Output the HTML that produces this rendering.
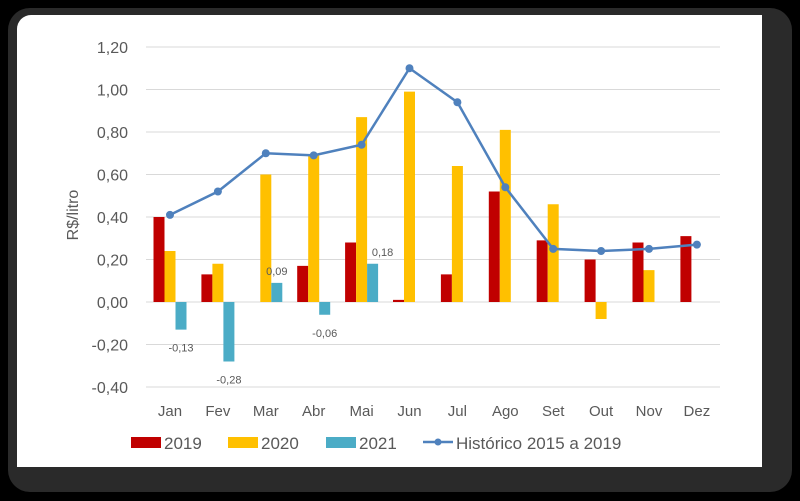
<!DOCTYPE html>
<html><head><meta charset="utf-8"><style>
html,body{margin:0;padding:0;background:#000;}
body{width:800px;height:501px;position:relative;overflow:hidden;font-family:"Liberation Sans",sans-serif;}
#frame{position:absolute;left:8px;top:8px;width:784px;height:484px;background:#2a2a2a;border-radius:22px;}
#card{position:absolute;left:17px;top:15px;width:745px;height:452px;background:#fff;border-radius:14px 0 0 0;}
svg{position:absolute;left:0;top:0;}
</style></head><body>
<div id="frame"></div>
<div id="card"></div>
<svg id="chart" width="800" height="501"></svg>
<script>
const months=["Jan","Fev","Mar","Abr","Mai","Jun","Jul","Ago","Set","Out","Nov","Dez"];
const s2019=[0.40,0.13,null,0.17,0.28,0.01,0.13,0.52,0.29,0.20,0.28,0.31];
const s2020=[0.24,0.18,0.60,0.69,0.87,0.99,0.64,0.81,0.46,-0.08,0.15,null];
const s2021=[-0.13,-0.28,0.09,-0.06,0.18,null,null,null,null,null,null,null];
const hist=[0.41,0.52,0.70,0.69,0.74,1.10,0.94,0.54,0.25,0.24,0.25,0.27];
const yTicks=[1.2,1.0,0.8,0.6,0.4,0.2,0,-0.2,-0.4];
const labels2021=["-0,13","-0,28","0,09","-0,06","0,18"];

const svg=document.getElementById('chart');
const NS='http://www.w3.org/2000/svg';
const y=v=>302-(v/0.2)*42.5;
const x=i=>170+i*47.9;
function mk(t,a,p){const e=document.createElementNS(NS,t);for(const k in a)e.setAttribute(k,a[k]);(p||svg).appendChild(e);return e;}
yTicks.forEach(v=>{
  const g=mk('line',{x1:146,x2:720,y1:y(v),y2:y(v),stroke:'#d9d9d9','stroke-width':1});
  
  
  const t=mk('text',{x:128,y:y(v)+6,'text-anchor':'end','font-size':16,fill:'#595959'});
  t.textContent=v.toFixed(2).replace('.',',');
  
  
});
const yt=mk('text',{x:0,y:0,transform:'translate(78,215) rotate(-90)','text-anchor':'middle','font-size':16,fill:'#595959'});
yt.textContent='R$/litro';


months.forEach((m,i)=>{
  const t=mk('text',{x:x(i),y:416,'text-anchor':'middle','font-size':15,fill:'#595959'});
  t.textContent=m;
  
  
});
const series=[[s2019,'#c00000',-11,'bar-2019'],[s2020,'#ffc000',0,'bar-2020'],[s2021,'#4bacc6',11,'bar-2021']];
series.forEach(([arr,col,off,name])=>{
  arr.forEach((v,i)=>{
    if(v===null)return;
    const top=Math.min(y(v),y(0)),h=Math.abs(y(v)-y(0));
    const r=mk('rect',{x:x(i)+off-5.5,y:top,width:11,height:Math.max(h,1),fill:col});
    
    
  });
});
s2021.forEach((v,i)=>{
  if(v===null)return;
  let tx=x(i)+11,ty;
  if(v<0){ty=y(v)+22;} else {ty=y(v)-8; tx+= (i===2?0:10);}
  const t=mk('text',{x:tx,y:ty,'text-anchor':'middle','font-size':11,fill:'#595959'});
  t.textContent=labels2021[i];
  
  
});
const pl=mk('polyline',{points:hist.map((v,i)=>x(i)+','+y(v)).join(' '),fill:'none',stroke:'#4f81bd','stroke-width':2.5});


hist.forEach((v,i)=>{
  const c=mk('circle',{cx:x(i),cy:y(v),r:4,fill:'#4f81bd'});
  
  
});
const leg=[['rect','#c00000','2019',131],['rect','#ffc000','2020',228],['rect','#4bacc6','2021',326],['line','#4f81bd','Histórico 2015 a 2019',423]];
leg.forEach(([k,c,l,lx])=>{
  if(k==='rect'){const r=mk('rect',{x:lx,y:437,width:30,height:11,fill:c});
    
    }
  else{const a=mk('line',{x1:lx,x2:lx+30,y1:442,y2:442,stroke:c,'stroke-width':2.5});
    
    
    const b=mk('circle',{cx:lx+15,cy:442,r:3.5,fill:c});
    
    }
  const t=mk('text',{x:lx+33,y:449,'font-size':17,fill:'#595959'});
  t.textContent=l;
  
  
});
</script>
</body></html>
